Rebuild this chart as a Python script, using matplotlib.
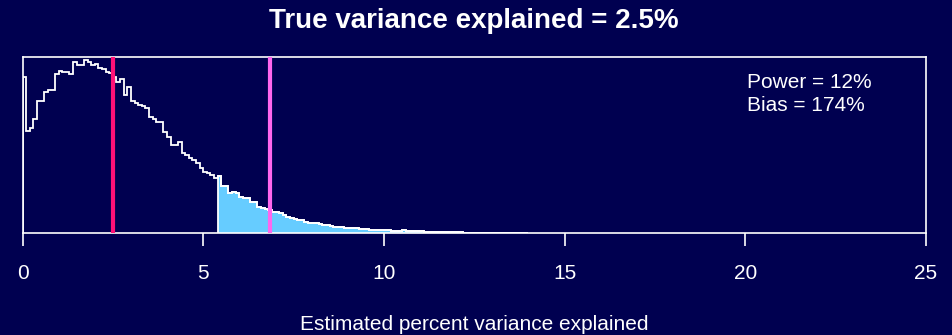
import numpy as np
import matplotlib
matplotlib.use("Agg")
import matplotlib.pyplot as plt

# ---- data ----
bin_width = 0.1
counts = [
    469, 307, 314, 342, 396, 396, 422, 429, 429, 476,
    486, 483, 483, 476, 514, 504, 504, 519, 514, 504,
    507, 496, 491, 484, 479, 469, 454, 461, 414, 439,
    396, 389, 384, 381, 374, 349, 341, 334, 334, 304,
    289, 264, 264, 274, 241, 234, 224, 219, 209, 196,
    184, 179, 174, 166, 172, 142, 142, 119, 124, 119,
    109, 106, 104, 92, 92, 79, 74, 72, 69, 64,
    62, 59, 54, 48, 44, 42, 40, 38, 34, 31,
    31, 30, 27, 25, 23, 20, 19, 19, 18, 15,
    14, 16, 15, 11, 11, 13, 10, 9, 8, 8,
    8, 8, 6, 6, 6, 8, 5, 5, 5, 5,
    5, 4, 4, 3, 3, 3, 3, 2, 2, 2,
    2, 2, 1, 1, 1, 1, 1, 1, 1, 1,
    0.5, 0.5, 0.5, 0.5, 0.5, 0.5, 0.3, 0.3, 0.3, 0.3,
]
true_value = 2.5
mean_estimate = 6.85
shade_from = 5.4
x_ticks = [0, 5, 10, 15, 20, 25]
power_text = "Power = 12%"
bias_text = "Bias = 174%"
title = "True variance explained = 2.5%"
xlabel = "Estimated percent variance explained"

# ---- style ----
bg = "#000050"
fg = "white"
fill_col = "#66CCFF"
true_col = "#FF1177"
mean_col = "#FF66EE"
plt.rcParams["font.family"] = ["Liberation Sans", "DejaVu Sans"]

counts = np.array(counts, dtype=float)
edges = np.arange(len(counts) + 1) * bin_width

W, H = 952, 335
fig = plt.figure(figsize=(W / 100, H / 100), dpi=100, facecolor=bg)
ax = fig.add_axes([22.5 / W, 1 - 233 / H, (926 - 22.5) / W, (233 - 57.3) / H])
ax.set_facecolor(bg)

i0 = int(round(shade_from / bin_width))
ax.stairs(counts[i0:], edges[i0:], fill=True, color=fill_col, lw=0, zorder=1)
ax.stairs(counts[i0:], edges[i0:], baseline=0, color=fg, lw=1.3, zorder=2)
ax.stairs(counts, edges, baseline=0, color=fg, lw=1.3, zorder=2)

ax.axvline(true_value, color=true_col, lw=3.0, zorder=3)
ax.axvline(mean_estimate, color=mean_col, lw=3.0, zorder=3)

ax.set_xlim(x_ticks[0], x_ticks[-1])
ax.set_ylim(0, 527)
ax.set_yticks([])
ax.set_xticks(x_ticks)
ax.set_xticklabels([str(t) for t in x_ticks])
ax.tick_params(axis="x", colors=fg, length=9, width=1.2, pad=13, labelsize=15)
for s in ax.spines.values():
    s.set_color(fg)
    s.set_linewidth(1.2)

ax.text(20.06, 0.827, power_text, transform=ax.get_xaxis_transform(),
        color=fg, fontsize=15, va="baseline", ha="left")
ax.text(20.06, 0.694, bias_text, transform=ax.get_xaxis_transform(),
        color=fg, fontsize=15, va="baseline", ha="left")

fig.text(474 / W, 1 - 28 / H, title, color=fg, fontsize=20, fontweight="bold",
         ha="center", va="baseline")
fig.text(474 / W, 1 - 329.5 / H, xlabel, color=fg, fontsize=15,
         ha="center", va="baseline")

fig.savefig("out.png", dpi=100, facecolor=bg)
